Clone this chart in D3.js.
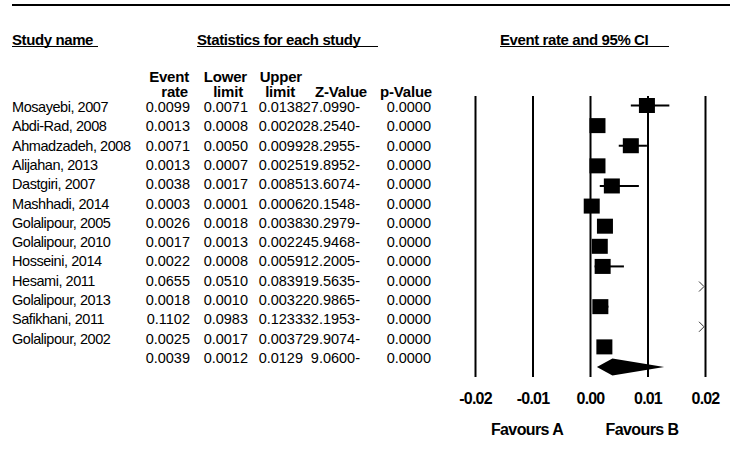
<!DOCTYPE html>
<html>
<head>
<meta charset="utf-8">
<script src="https://cdn.jsdelivr.net/npm/d3@7"></script>
<style>
  html, body { margin: 0; padding: 0; background: #fff; }
  svg { display: block; }
  text { font-family: "Liberation Sans", Arial, sans-serif; fill: #000; }
</style>
</head>
<body>
<svg id="chart" width="730" height="451"></svg>
<script>
// ---- data ----
const studies = ["Mosayebi, 2007", "Abdi-Rad, 2008", "Ahmadzadeh, 2008", "Alijahan, 2013",
  "Dastgiri, 2007", "Mashhadi, 2014", "Golalipour, 2005", "Golalipour, 2010",
  "Hosseini, 2014", "Hesami, 2011", "Golalipour, 2013", "Safikhani, 2011", "Golalipour,  2002"];
const eventRate  = [0.0099, 0.0013, 0.0071, 0.0013, 0.0038, 0.0003, 0.0026, 0.0017, 0.0022, 0.0655, 0.0018, 0.1102, 0.0025];
const lowerLimit = [0.0071, 0.0008, 0.0050, 0.0007, 0.0017, 0.0001, 0.0018, 0.0013, 0.0008, 0.0510, 0.0010, 0.0983, 0.0017];
const upperLimit = [0.0138, 0.0020, 0.0099, 0.0025, 0.0085, 0.0006, 0.0038, 0.0022, 0.0059, 0.0839, 0.0032, 0.1233, 0.0037];
const zValue     = [27.0990, 28.2540, 28.2955, 19.8952, 13.6074, 20.1548, 30.2979, 45.9468, 12.2005, 19.5635, 20.9865, 32.1953, 29.9074];
const pValue     = [0, 0, 0, 0, 0, 0, 0, 0, 0, 0, 0, 0, 0];
const summary    = { eventRate: 0.0039, lowerLimit: 0.0012, upperLimit: 0.0129, zValue: 9.0600, pValue: 0 };
const tickValues = [-0.02, -0.01, 0.00, 0.01, 0.02];
const favourLabels = ["Favours A", "Favours B"];

// ---- setup ----
const svg = d3.select("#chart");
const f4 = d => d.toFixed(4);
const nRows = studies.length + 1;

const x = d3.scaleLinear().domain([-0.02, 0.02]).range([475, 705]);
const yText = d3.scaleLinear().domain([0, nRows - 1]).range([107, 358]);
const yPlot = d3.scaleLinear().domain([0, nRows - 1]).range([105.5, 367]);

// top rule
svg.append("line").attr("x1", 12).attr("x2", 730).attr("y1", 5).attr("y2", 5)
  .attr("stroke", "#000").attr("stroke-width", 2);

function bold(txt, xPos, yPos, anchor, size, ls) {
  return svg.append("text").attr("x", xPos).attr("y", yPos).attr("text-anchor", anchor)
    .attr("font-size", size).attr("font-weight", "bold").attr("letter-spacing", ls).text(txt);
}

// section headers with underline
function header(txt, xPos, ulX2) {
  bold(txt, xPos, 45, "start", 15, -0.4);
  svg.append("line").attr("x1", xPos).attr("x2", ulX2).attr("y1", 46.5).attr("y2", 46.5)
    .attr("stroke", "#000").attr("stroke-width", 1.2);
}
header("Study name", 12, 98);
header("Statistics for each study", 197, 378);
header("Event rate and 95% CI", 500, 669);

// column headers
const colHeads = [
  { l1: "Event", x1: 189, l2: "rate",    x2: 188 },
  { l1: "Lower", x1: 247, l2: "limit",   x2: 243 },
  { l1: "Upper", x1: 302, l2: "limit",   x2: 295 },
  { l1: "",      x1: 0,   l2: "Z-Value", x2: 367 },
  { l1: "",      x1: 0,   l2: "p-Value", x2: 432 }
];
colHeads.forEach(c => {
  if (c.l1) bold(c.l1, c.x1, 82, "end", 15, -0.2);
  bold(c.l2, c.x2, 97, "end", 15, -0.2);
});

// table rows
const rows = studies.map((s, i) => ({
  name: s, er: eventRate[i], lo: lowerLimit[i], hi: upperLimit[i], z: zValue[i], p: pValue[i]
}));
rows.push({ name: "", er: summary.eventRate, lo: summary.lowerLimit, hi: summary.upperLimit,
  z: summary.zValue, p: summary.pValue, isSummary: true });

const tbl = svg.append("g").attr("font-size", 14.5);
rows.forEach((r, i) => {
  const yy = yText(i) + 5;
  tbl.append("text").attr("x", 12).attr("y", yy).attr("letter-spacing", -0.45).text(r.name);
  tbl.append("text").attr("x", 190).attr("y", yy).attr("text-anchor", "end").text(f4(r.er));
  tbl.append("text").attr("x", 248).attr("y", yy).attr("text-anchor", "end").text(f4(r.lo));
  tbl.append("text").attr("x", 303).attr("y", yy).attr("text-anchor", "end").text(f4(r.hi));
  tbl.append("text").attr("x", 360).attr("y", yy).attr("text-anchor", "end").text(f4(r.z) + "-");
  tbl.append("text").attr("x", 431).attr("y", yy).attr("text-anchor", "end").text(f4(r.p));
});

// axis with full-height grid lines
const plotTop = 96, plotBottom = 377;
const axis = d3.axisBottom(x).tickValues(tickValues).tickSize(plotBottom - plotTop)
  .tickPadding(16).tickFormat(d => d.toFixed(2));
const ag = svg.append("g").attr("transform", `translate(0,${plotTop})`).call(axis);
ag.select(".domain").remove();
ag.selectAll(".tick line").attr("stroke", "#000").attr("stroke-width", 2);
ag.selectAll(".tick text").attr("font-size", 16).attr("font-weight", "bold")
  .attr("font-family", "Liberation Sans, Arial, sans-serif").attr("fill", "#000").attr("letter-spacing", -0.8);

// favours labels
bold(favourLabels[0], 527, 435, "middle", 16, -0.6);
bold(favourLabels[1], 642, 435, "middle", 16, -0.6);

// forest marks
const [dMin, dMax] = x.domain();
const sq = 16;
const marks = svg.append("g");
rows.forEach((r, i) => {
  const cy = yPlot(i);
  if (r.isSummary) {
    const h = 8.5;
    marks.append("path")
      .attr("d", `M${x(r.lo)},${cy} L${x(r.er)},${cy - h} L${x(r.hi)},${cy} L${x(r.er)},${cy + h} Z`)
      .attr("fill", "#000");
    return;
  }
  if (r.lo > dMax) {
    // off-scale: chevron at the right edge
    const ex = x(dMax) - 1;
    marks.append("path").attr("d", `M${ex - 5},${cy - 5} L${ex},${cy} L${ex - 5},${cy + 5}`)
      .attr("fill", "none").attr("stroke", "#333").attr("stroke-width", 1);
    return;
  }
  marks.append("line").attr("x1", x(Math.max(r.lo, dMin))).attr("x2", x(Math.min(r.hi, dMax)))
    .attr("y1", cy).attr("y2", cy).attr("stroke", "#000").attr("stroke-width", 2);
  marks.append("rect").attr("x", x(r.er) - sq / 2).attr("y", cy - sq / 2 + 0.5)
    .attr("width", sq).attr("height", sq - 1).attr("fill", "#000");
});
</script>
</body>
</html>
